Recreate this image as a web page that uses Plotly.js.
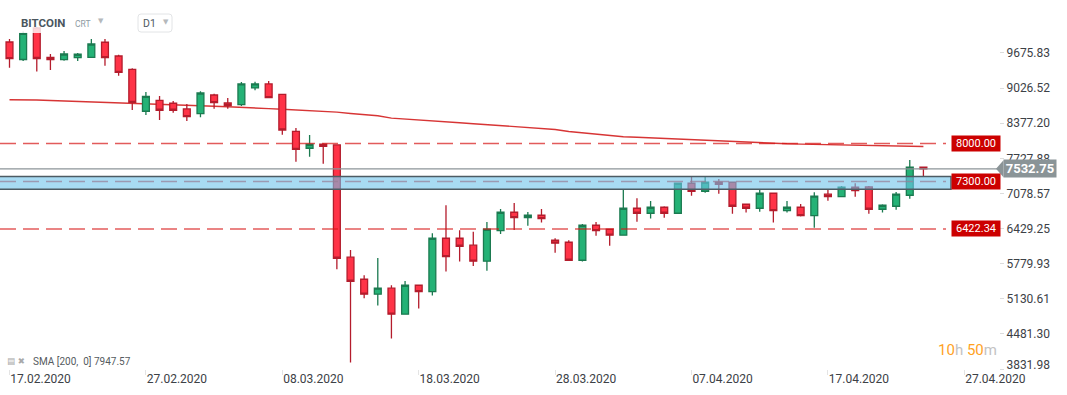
<!DOCTYPE html>
<html>
<head>
<meta charset="utf-8">
<script src="https://cdn.plot.ly/plotly-3.0.1.min.js"></script>
<style>
html,body{margin:0;padding:0;background:#fff;}
#chart{width:1067px;height:395px;}
</style>
</head>
<body>
<div id="chart"></div>
<script>
// ---- data ----
const dates = ['2020-02-17','2020-02-18','2020-02-19','2020-02-20','2020-02-21','2020-02-22','2020-02-23','2020-02-24','2020-02-25','2020-02-26',
'2020-02-27','2020-02-28','2020-02-29','2020-03-01','2020-03-02','2020-03-03','2020-03-04','2020-03-05','2020-03-06','2020-03-07',
'2020-03-08','2020-03-09','2020-03-10','2020-03-11','2020-03-12','2020-03-13','2020-03-14','2020-03-15','2020-03-16','2020-03-17',
'2020-03-18','2020-03-19','2020-03-20','2020-03-21','2020-03-22','2020-03-23','2020-03-24','2020-03-25','2020-03-26','2020-03-27',
'2020-03-28','2020-03-29','2020-03-30','2020-03-31','2020-04-01','2020-04-02','2020-04-03','2020-04-04','2020-04-05','2020-04-06',
'2020-04-07','2020-04-08','2020-04-09','2020-04-10','2020-04-11','2020-04-12','2020-04-13','2020-04-14','2020-04-15','2020-04-16',
'2020-04-17','2020-04-18','2020-04-19','2020-04-20','2020-04-21','2020-04-22','2020-04-23','2020-04-24'];

const openP = [9879,9555,10138,9596,9552,9589,9596,9874,9620,9374,
8598,8801,8746,8641,8554,8899,8751,8720,9029,9103,
8912,8228,7914,7988,7975,5899,5492,5215,5326,4845,
5381,5263,6250,6250,6121,5825,6391,6731,6631,6675,
6213,6176,5843,6490,6416,6306,6805,6712,6823,6712,
7267,7119,7285,7285,6879,6805,7082,6761,6823,6668,
7064,7019,7193,7199,6786,6842,7045,7563];

const highP = [9935,10073,10156,9657,9713,9676,9935,9935,9644,9393,
8955,8881,8788,8733,8968,8923,8844,9140,9145,9158,
8917,8289,8160,8006,7984,6034,5566,5886,5381,5461,
5386,6343,6860,6398,6372,6552,6792,6903,6736,6792,
6250,6213,6515,6552,6422,7162,6990,6940,6842,7272,
7389,7389,7346,7291,6885,7156,7087,6940,6885,7101,
7156,7217,7267,7217,6879,7106,7698,7568];

const lowP = [9404,9528,9334,9362,9533,9528,9593,9441,9256,8622,
8530,8437,8572,8419,8487,8646,8646,8696,8986,8838,
8165,7666,7759,7629,5677,3951,5141,5004,4394,4842,
4949,5189,5633,5818,5738,5651,6330,6404,6483,6539,
5984,5840,5818,6298,6113,6302,6557,6613,6631,6709,
7038,7093,7075,6705,6724,6742,6539,6724,6650,6446,
6945,7014,7019,6705,6724,6779,6982,7402];

const closeP = [9570,10040,9574,9552,9657,9652,9842,9589,9319,8764,
8875,8617,8617,8498,8936,8757,8702,9103,9103,8849,
8252,7892,7988,7951,5880,5455,5215,5326,4845,5381,
5263,6250,5910,6102,5825,6416,6731,6631,6675,6613,
6158,5843,6490,6391,6306,6805,6712,6823,6712,7267,
7119,7285,7248,6842,6805,7082,6761,6823,6668,7027,
7019,7193,7130,6786,6860,7064,7563,7532.75];

const sma200 = [8812,8812,8805,8796,8786,8777,8769,8761,8751,8741,
8731,8721,8712,8705,8698,8690,8682,8667,8657,8646,
8636,8624,8612,8600,8582,8558,8535,8515,8472,8457,
8437,8421,8403,8385,8368,8349,8327,8305,8287,8273,
8261,8224,8198,8175,8151,8127,8118,8106,8094,8087,
8076,8064,8053,8042,8030,8017,8004,7996,7991,7986,
7981,7977,7973,7968,7962,7958,7953,7947.57];

const levels = [8000.00, 7300.00, 6422.34];
const zone = [7158, 7390];
const lastPrice = 7532.75;

const yTicks = [3831.98, 4481.30, 5130.61, 5779.93, 6429.25, 7078.57, 7727.88, 8377.20, 9026.52, 9675.83];
const xTicks = ['2020-02-17','2020-02-27','2020-03-08','2020-03-18','2020-03-28','2020-04-07','2020-04-17','2020-04-27'];
const xTickLabels = ['17.02.2020','27.02.2020','08.03.2020','18.03.2020','28.03.2020','07.04.2020','17.04.2020','27.04.2020'];

const symbol = 'BITCOIN', symbolType = 'CRT', interval = 'D1';
const smaLabel = 'SMA [200,  0]';

// ---- geometry helpers (pixel layout only) ----
const PW = 999, PH = 369;
const px = v => v / PW;
const py = v => 1 - v / PH;
const yRange = [3831.98, 10655.6];

const traces = [
  {
    type: 'scatter', mode: 'lines', x: dates, y: sma200,
    line: {color: 'rgba(208,18,18,0.85)', width: 1.4},
    hoverinfo: 'skip', showlegend: false
  },
  {
    type: 'candlestick', x: dates, open: openP, high: highP, low: lowP, close: closeP, yaxis: 'y2',
    increasing: {line: {color: '#1b7a50', width: 1.3}, fillcolor: '#24b276'},
    decreasing: {line: {color: '#b41c2c', width: 1.3}, fillcolor: '#ff3347'},
    whiskerwidth: 0, hoverinfo: 'skip', showlegend: false
  }
];

const shapes = [];
// header veil
shapes.push({type: 'rect', xref: 'paper', yref: 'paper', x0: 0, x1: px(250), y0: py(33), y1: 1,
  fillcolor: 'rgba(255,255,255,0.8)', line: {width: 0}, layer: 'above'});
// D1 box
shapes.push({type: 'path', xref: 'paper', yref: 'paper', xsizemode: 'pixel', ysizemode: 'pixel',
  xanchor: px(138), yanchor: py(32),
  path: 'M 3,0 L 31,0 Q 34,0 34,3 L 34,15 Q 34,18 31,18 L 3,18 Q 0,18 0,15 L 0,3 Q 0,0 3,0 Z',
  fillcolor: '#ffffff', line: {color: '#e2e4e6', width: 1}, layer: 'above'});
// level lines
levels.forEach(l => shapes.push({type: 'line', xref: 'paper', yref: 'y', x0: 0, x1: px(946), y0: l, y1: l,
  line: {color: 'rgba(214,22,22,0.7)', width: 1.5, dash: '16px,7px'}, layer: 'above'}));
// zone band
shapes.push({type: 'rect', xref: 'paper', yref: 'y', x0: -0.005, x1: px(951), y0: zone[0], y1: zone[1],
  fillcolor: 'rgba(110,195,235,0.6)', line: {color: '#4d5b63', width: 1.5}, layer: 'above'});
// last price line
shapes.push({type: 'line', xref: 'paper', yref: 'y', x0: 0, x1: px(998), y0: lastPrice, y1: lastPrice,
  line: {color: '#8c9498', width: 1.2}, layer: 'above'});
// last price tag pointer
shapes.push({type: 'path', xref: 'paper', yref: 'y', xsizemode: 'pixel', ysizemode: 'pixel',
  xanchor: px(1003), yanchor: lastPrice, path: 'M -7,0 L 0.5,8.5 L 0.5,-8.5 Z',
  fillcolor: '#8a9497', line: {width: 0}, layer: 'above'});

const annotations = [];
levels.forEach(l => annotations.push({xref: 'paper', yref: 'y', x: px(951), y: l, xanchor: 'left', yanchor: 'middle',
  text: l.toFixed(2), showarrow: false, bgcolor: '#cc0000', width: 46, height: 13, borderpad: 1, align: 'center',
  font: {family: 'Roboto', size: 11, color: '#ffffff'}}));
annotations.push({xref: 'paper', yref: 'y', x: px(1003), y: lastPrice, xanchor: 'left', yanchor: 'middle',
  text: '<b>' + lastPrice.toFixed(2) + '</b>', showarrow: false, bgcolor: '#8a9497', width: 50, height: 15, borderpad: 1,
  align: 'center', font: {family: 'Roboto', size: 13, color: '#ffffff'}});
// header
annotations.push({xref: 'paper', yref: 'paper', x: px(19), y: py(23), xanchor: 'left', yanchor: 'middle', showarrow: false,
  text: '<b>' + symbol + '</b>', font: {family: 'Roboto', size: 11.5, color: '#4b565e'}});
annotations.push({xref: 'paper', yref: 'paper', x: px(73), y: py(24), xanchor: 'left', yanchor: 'middle', showarrow: false,
  text: symbolType, font: {family: 'Roboto', size: 8.5, color: '#8e9aa3'}});
annotations.push({xref: 'paper', yref: 'paper', x: px(96), y: py(21), xanchor: 'left', yanchor: 'middle', showarrow: false,
  text: '▼', font: {family: 'DejaVu Sans', size: 7, color: '#b5b9bc'}});
annotations.push({xref: 'paper', yref: 'paper', x: px(141), y: py(23), xanchor: 'left', yanchor: 'middle', showarrow: false,
  text: interval, font: {family: 'Roboto', size: 10.5, color: '#4f5a62'}});
annotations.push({xref: 'paper', yref: 'paper', x: px(161), y: py(22), xanchor: 'left', yanchor: 'middle', showarrow: false,
  text: '▼', font: {family: 'DejaVu Sans', size: 7, color: '#b5b9bc'}});
// SMA legend
annotations.push({xref: 'paper', yref: 'paper', x: px(5), y: py(361), xanchor: 'left', yanchor: 'middle', showarrow: false,
  text: '▤ ✖', font: {family: 'DejaVu Sans', size: 8.5, color: '#a9a9a9'}});
annotations.push({xref: 'paper', yref: 'paper', x: px(31), y: py(361.5), xanchor: 'left', yanchor: 'middle', showarrow: false,
  text: smaLabel + ' ' + sma200[sma200.length - 1].toFixed(2), font: {family: 'Roboto', size: 10, color: '#555b60'}});
// timer
annotations.push({xref: 'paper', yref: 'paper', x: px(999), y: py(350), xanchor: 'right', yanchor: 'middle', showarrow: false,
  text: '<span style="color:#ffa21f">10</span><span style="color:#c3c3c3">h</span> <span style="color:#ffa21f">50</span><span style="color:#c3c3c3">m</span>',
  font: {family: 'Roboto', size: 15, color: '#ffa21f'}});

const yAxisBase = {
  side: 'right', range: yRange,
  ticks: 'outside', ticklen: 4, tickcolor: '#dcdcdc', tickwidth: 1,
  tickfont: {family: 'Roboto', size: 12, color: '#3c4146'},
  showgrid: false, zeroline: false, showline: false, fixedrange: true
};

const layout = {
  width: 1067, height: 395,
  margin: {l: 0, r: 68, t: 0, b: 26, pad: 0},
  paper_bgcolor: '#ffffff', plot_bgcolor: '#ffffff',
  showlegend: false,
  boxgap: 0.28, boxgroupgap: 0.3,
  xaxis: {
    type: 'date', range: ['2020-02-16 07:17', '2020-04-29 13:00'],
    tickvals: xTicks, ticktext: xTickLabels,
    ticks: 'outside', ticklen: 5, tickcolor: '#e4e4e4', tickwidth: 1,
    ticklabelshift: 31, ticklabelstandoff: -6,
    tickfont: {family: 'Roboto', size: 12, color: '#3c4146'},
    showgrid: false, zeroline: false, showline: false,
    rangeslider: {visible: false}, fixedrange: true
  },
  // upper ticks
  yaxis: Object.assign({}, yAxisBase, {
    tickvals: yTicks.slice(1), ticktext: yTicks.slice(1).map(v => v.toFixed(2))
  }),
  // bottom tick, its label lifted a little as in the reference
  yaxis2: Object.assign({}, yAxisBase, {
    overlaying: 'y', anchor: 'x',
    tickvals: yTicks.slice(0, 1), ticktext: yTicks.slice(0, 1).map(v => v.toFixed(2)),
    ticklabelshift: -4
  }),
  shapes: shapes,
  annotations: annotations
};

Plotly.newPlot('chart', traces, layout, {displayModeBar: false, staticPlot: true});
</script>
</body>
</html>
